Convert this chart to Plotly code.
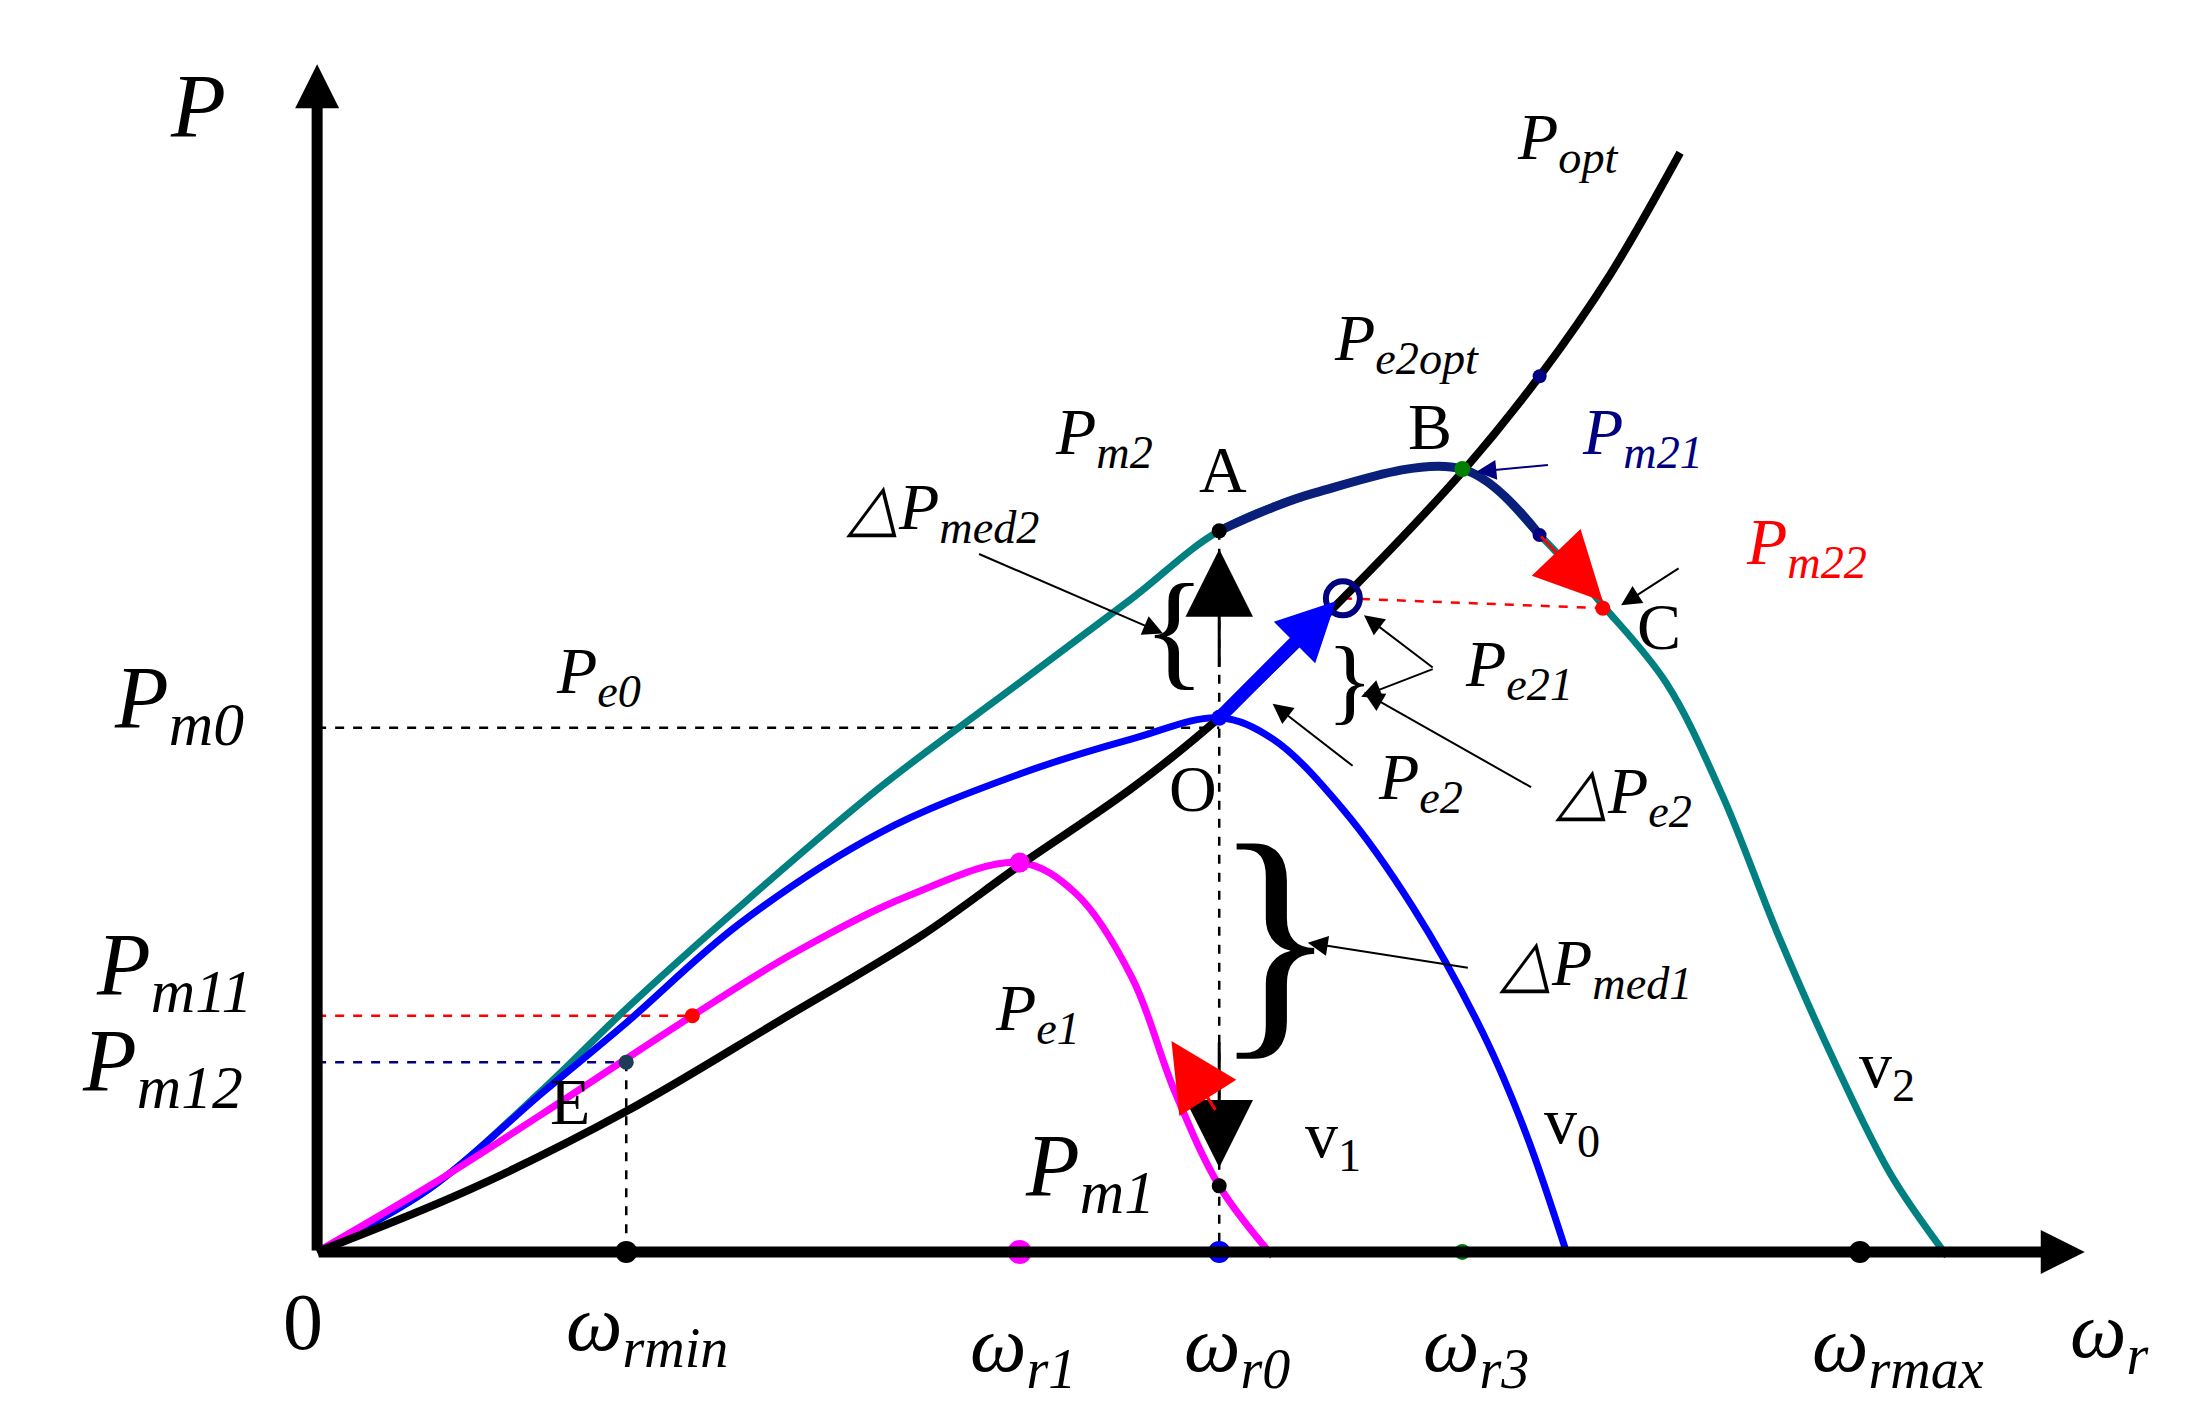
import plotly.graph_objects as go

popt_x = [220, 330, 440, 550, 650, 720, 800, 862, 950, 1035, 1090, 1140, 1190]
popt_y = [885, 840, 785, 720, 660, 610, 555, 505, 420, 330, 262, 190, 103]

v2_x = [220, 300, 380, 440, 520, 620, 720, 800, 862, 930, 1035, 1090, 1135, 1180, 1220, 1260, 1300, 1340, 1380]
v2_y = [885, 840, 770, 712, 640, 555, 480, 420, 372, 345, 328, 375, 425, 480, 560, 660, 750, 830, 888]

v0_x = [220, 300, 380, 440, 520, 620, 720, 800, 862, 900, 950, 1000, 1050, 1080, 1110]
v0_y = [885, 840, 772, 722, 652, 587, 545, 520, 505, 520, 570, 640, 730, 800, 888]

v1_x = [220, 300, 380, 487, 560, 640, 720, 760, 800, 830, 862, 900]
v1_y = [885, 838, 787, 717, 672, 632, 608, 630, 690, 770, 838, 888]

path_x = [862, 930, 1035, 1090]
path_y = [372, 345, 328, 375]

dots = [  # x, y, colour, size
    (440, 885, "black", 22), (720, 885, "magenta", 24), (1035, 885, "green", 16),
    (1318, 885, "black", 22), (862, 372, "black", 15), (1035, 328, "green", 16),
    (1090, 262, "navy", 14), (1090, 375, "navy", 14), (1135, 427, "red", 15),
    (487, 717, "red", 15), (440, 750, "#1f3b5a", 15), (720, 608, "magenta", 20),
    (862, 505, "blue", 16), (862, 838, "black", 15),
]
rings = [(862, 885, "blue", 16), (950, 420, "navy", 34)]

dashed = [  # x list, y list, colour
    ([220, 862], [512, 512], "black"), ([862, 862], [372, 885], "black"),
    ([220, 487], [717, 717], "red"), ([220, 440], [750, 750], "navy"),
    ([440, 440], [750, 885], "black"), ([950, 1135], [420, 427], "red"),
]

labels = [  # text, x, y, size, colour, italic
    ("P", 135, 70, 90, "black", True),
    ("P<sub>opt</sub>", 1110, 95, 66, "black", True),
    ("P<sub>e2opt</sub>", 995, 238, 66, "black", True),
    ("P<sub>m2</sub>", 780, 305, 66, "black", True),
    ("A", 865, 328, 66, "black", False),
    ("B", 1012, 298, 66, "black", False),
    ("P<sub>m21</sub>", 1163, 305, 66, "navy", True),
    ("P<sub>m22</sub>", 1280, 383, 66, "red", True),
    ("C", 1175, 440, 66, "black", False),
    ("△P<sub>med2</sub>", 665, 358, 66, "black", True),
    ("P<sub>e0</sub>", 420, 475, 66, "black", True),
    ("P<sub>m0</sub>", 122, 495, 88, "black", True),
    ("P<sub>e21</sub>", 1075, 470, 66, "black", True),
    ("O", 843, 555, 66, "black", False),
    ("P<sub>e2</sub>", 1005, 550, 66, "black", True),
    ("△P<sub>e2</sub>", 1150, 560, 66, "black", True),
    ("△P<sub>med1</sub>", 1130, 683, 66, "black", True),
    ("P<sub>m11</sub>", 118, 685, 88, "black", True),
    ("P<sub>m12</sub>", 110, 753, 88, "black", True),
    ("P<sub>e1</sub>", 733, 715, 66, "black", True),
    ("E", 400, 778, 66, "black", False),
    ("v<sub>1</sub>", 943, 805, 66, "black", False),
    ("v<sub>0</sub>", 1113, 795, 66, "black", False),
    ("v<sub>2</sub>", 1337, 755, 66, "black", False),
    ("P<sub>m1</sub>", 770, 828, 88, "black", True),
    ("0", 210, 935, 80, "black", False),
    ("ω<sub>rmin</sub>", 455, 940, 80, "black", True),
    ("ω<sub>r1</sub>", 722, 955, 80, "black", True),
    ("ω<sub>r0</sub>", 875, 955, 80, "black", True),
    ("ω<sub>r3</sub>", 1045, 955, 80, "black", True),
    ("ω<sub>rmax</sub>", 1345, 955, 80, "black", True),
    ("ω<sub>r</sub>", 1495, 945, 80, "black", True),
]

braces = [("{", 830, 442, 130, 0), ("}", 955, 478, 95, 0), ("}", 902, 660, 260, 0)]

# arrows: tail x, tail y, head x, head y, colour, width, head size
arrows = [
    (220, 885, 1478, 885, "black", 11, 0.8), (220, 885, 220, 40, "black", 11, 0.8),
    (862, 505, 945, 422, "blue", 13, 0.9),
    (862, 470, 862, 385, "black", 3, 4.5), (862, 735, 862, 825, "black", 3, 4.5),
    (860, 785, 828, 735, "red", 3, 4.5), (1090, 375, 1135, 422, "red", 3, 4.5),
    (690, 388, 822, 445, "black", 2, 2), (1015, 470, 965, 432, "black", 2, 2),
    (1015, 470, 963, 490, "black", 2, 2), (1085, 555, 965, 487, "black", 2, 2),
    (958, 540, 900, 495, "black", 2, 2), (1040, 683, 925, 665, "black", 2, 2),
    (1190, 398, 1148, 425, "black", 2, 2), (1097, 325, 1045, 330, "navy", 2, 2),
]

fig = go.Figure()
for xs, ys, c in dashed:
    fig.add_trace(go.Scatter(x=xs, y=ys, mode="lines", line=dict(color=c, width=2.5, dash="dash")))
fig.add_trace(go.Scatter(x=v2_x, y=v2_y, mode="lines", line=dict(color="#008080", width=7, shape="spline")))
fig.add_trace(go.Scatter(x=v0_x, y=v0_y, mode="lines", line=dict(color="blue", width=7, shape="spline")))
fig.add_trace(go.Scatter(x=v1_x, y=v1_y, mode="lines", line=dict(color="magenta", width=7, shape="spline")))
fig.add_trace(go.Scatter(x=popt_x, y=popt_y, mode="lines", line=dict(color="black", width=8, shape="spline")))
fig.add_trace(go.Scatter(x=path_x, y=path_y, mode="lines", line=dict(color="#0a1f7a", width=9, shape="spline")))
for x, y, c, s in dots:
    fig.add_trace(go.Scatter(x=[x], y=[y], mode="markers", marker=dict(color=c, size=s)))
for x, y, c, s in rings:
    fig.add_trace(go.Scatter(x=[x], y=[y], mode="markers",
                             marker=dict(color="rgba(0,0,0,0)", size=s, line=dict(color=c, width=6))))

for ax_, ay_, x, y, c, w, hs in arrows:
    fig.add_annotation(x=x, y=y, ax=ax_, ay=ay_, xref="x", yref="y", axref="x", ayref="y",
                       showarrow=True, arrowhead=2, arrowsize=hs, arrowwidth=w, arrowcolor=c, text="")
for t, x, y, s, c, it in labels:
    txt = "<i>" + t + "</i>" if it else t
    fig.add_annotation(x=x, y=y, text=txt, showarrow=False, xref="x", yref="y",
                       font=dict(family="Liberation Serif", size=s, color=c))
for t, x, y, s, r in braces:
    fig.add_annotation(x=x, y=y, text=t, showarrow=False, xref="x", yref="y", textangle=r,
                       font=dict(family="Liberation Serif", size=s, color="black"))

fig.update_layout(
    width=2192, height=1421, showlegend=False,
    margin=dict(l=0, r=0, t=0, b=0),
    plot_bgcolor="white", paper_bgcolor="white",
    xaxis=dict(range=[0, 1560], visible=False),
    yaxis=dict(range=[1011, 0], visible=False),
)
fig.write_html("out.html")
